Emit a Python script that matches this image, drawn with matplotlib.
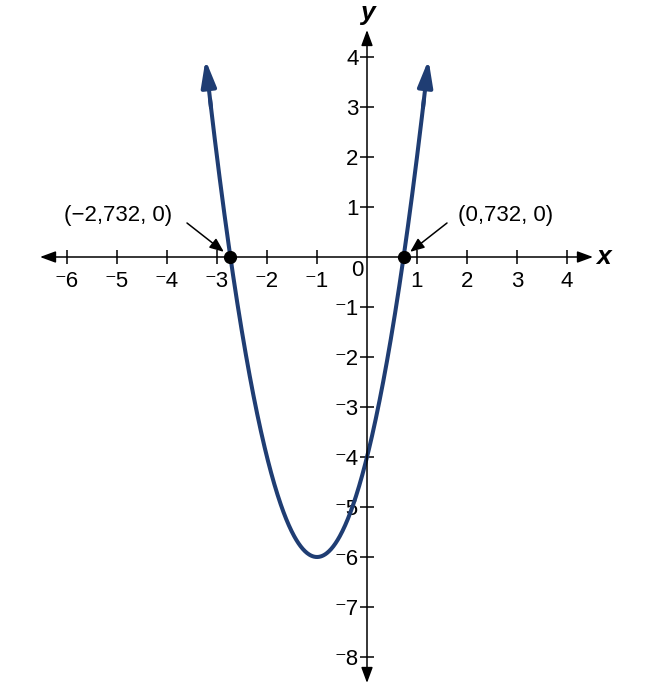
"""Parabola y = 2(x + 1)^2 - 6 with its two x-intercepts marked."""

import matplotlib
matplotlib.use('Agg')
import matplotlib.pyplot as plt
import numpy as np

# curve: vertex (-1, -6), opens up with a = 2
a_coef = 2.0
vertex_x = -1.0
vertex_y = -6.0
curve_x_ends = [-3.23, 1.23]

# marked intercepts and their labels
root_x = [-2.732, 0.732]
root_labels = ['(\u22122,732, 0)', '(0,732, 0)']
label_pos = [(-4.98, 0.84), (2.78, 0.84)]
arrow_start = [(-3.6, 0.68), (1.6, 0.68)]

x_ticks = [-6, -5, -4, -3, -2, -1, 1, 2, 3, 4]
y_ticks = [-8, -7, -6, -5, -4, -3, -2, -1, 1, 2, 3, 4]
x_axis_ends = [-6.54, 4.52]
y_axis_ends = [-8.52, 4.54]

CURVE = '#1f3d73'
FONT = ['Liberation Sans', 'DejaVu Sans']
plt.rcParams['font.family'] = FONT
FS = 16


def tick_text(v):
    # raised minus like the textbook style
    return f'\u207b{abs(v)}' if v < 0 else str(v)


def parabola(x):
    return a_coef * (x - vertex_x) ** 2 + vertex_y


fig = plt.figure(figsize=(6.5, 6.91), dpi=100)
ax = fig.add_axes([0, 0, 1, 1])
ax.set_xlim(-7.34, 5.66)
ax.set_ylim(-8.68, 5.14)

# axes through the origin, spines hidden but ticks kept
for side in ['top', 'right']:
    ax.spines[side].set_visible(False)
ax.spines['left'].set_position(('data', 0))
ax.spines['bottom'].set_position(('data', 0))
ax.spines['left'].set_color('none')
ax.spines['bottom'].set_color('none')

ax.set_xticks(x_ticks)
ax.set_xticklabels([tick_text(v) for v in x_ticks])
ax.set_yticks(y_ticks)
ax.set_yticklabels([tick_text(v) for v in y_ticks])
ax.tick_params(direction='inout', length=10, width=1.1, color='black',
               labelsize=FS, pad=1)
ax.tick_params(axis='x', pad=5)

axis_arrow = dict(arrowstyle='<|-|>,head_length=0.95,head_width=0.35',
                  color='black', lw=1.1, shrinkA=0, shrinkB=0,
                  mutation_scale=10)
ax.annotate('', xy=(x_axis_ends[1], 0), xytext=(x_axis_ends[0], 0),
            arrowprops=axis_arrow)
ax.annotate('', xy=(0, y_axis_ends[1]), xytext=(0, y_axis_ends[0]),
            arrowprops=axis_arrow)

ax.text(x_axis_ends[1] + 0.06, 0, 'x', fontsize=19, fontweight='bold',
        fontstyle='italic', ha='left', va='center')
ax.text(0, y_axis_ends[1] + 0.1, 'y', fontsize=19, fontweight='bold',
        fontstyle='italic', ha='center', va='bottom')
ax.text(-0.2, -0.26, '0', fontsize=FS, ha='center', va='center')

# the parabola, stopped a little short of the ends for the arrowheads
stop = 0.09
xs = np.linspace(curve_x_ends[0] + stop, curve_x_ends[1] - stop, 400)
ax.plot(xs, parabola(xs), color=CURVE, lw=2.9, solid_capstyle='butt')

head = dict(arrowstyle='-|>,head_length=1.6,head_width=0.45',
            color=CURVE, lw=2.9, shrinkA=0, shrinkB=0, mutation_scale=10)
for end, inner in [(curve_x_ends[0], curve_x_ends[0] + stop + 0.02),
                   (curve_x_ends[1], curve_x_ends[1] - stop - 0.02)]:
    ax.annotate('', xy=(end, parabola(end)), xytext=(inner, parabola(inner)),
                arrowprops=head)

# intercept points and labels
ax.plot(root_x, [0, 0], 'o', color='black', markersize=8.5, zorder=5)
pointer = dict(arrowstyle='-|>,head_length=0.85,head_width=0.35',
               color='black', lw=1.1, shrinkA=0, shrinkB=6,
               mutation_scale=10)
for rx, lab, (lx, ly), (sx, sy) in zip(root_x, root_labels, label_pos,
                                       arrow_start):
    ax.text(lx, ly, lab, fontsize=FS, ha='center', va='center')
    ax.annotate('', xy=(rx, 0), xytext=(sx, sy), arrowprops=pointer)

fig.savefig('out.png', dpi=100)
